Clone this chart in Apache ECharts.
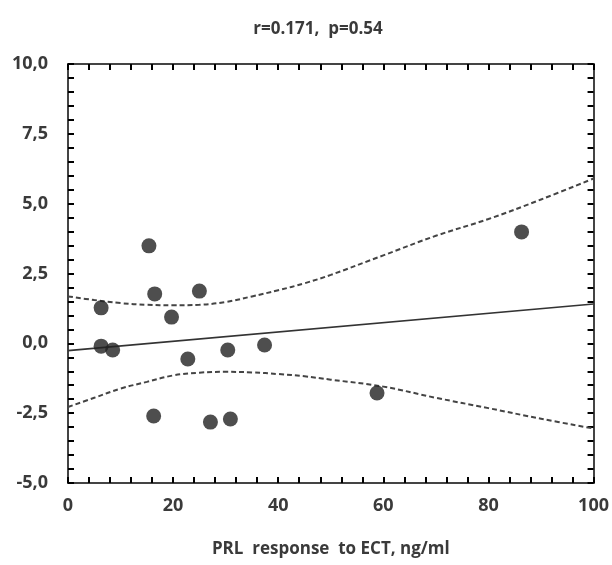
<!DOCTYPE html>
<html>
<head>
<meta charset="utf-8">
<script src="https://cdn.jsdelivr.net/npm/echarts@6/dist/echarts.min.js"></script>
<style>
html,body{margin:0;padding:0;background:#fff;}
#chart{width:612px;height:565px;}
</style>
</head>
<body>
<div id="chart"></div>
<script>
// Data
var prlX = [6.3, 6.3, 8.5, 15.4, 16.5, 19.7, 25.0, 16.3, 22.8, 30.4, 37.4, 27.1, 30.9, 58.8, 86.3];
var respY = [1.27, -0.10, -0.24, 3.49, 1.77, 0.94, 1.87, -2.60, -0.56, -0.24, -0.06, -2.82, -2.71, -1.78, 3.99];

var fitX = [0, 100];
var fitY = [-0.26, 1.41];

var bandX = [0, 5, 10, 15, 20, 25, 30, 35, 40, 45, 50, 60, 70, 80, 90, 100];
var upperY = [1.68, 1.55, 1.44, 1.38, 1.36, 1.38, 1.48, 1.68, 1.90, 2.15, 2.45, 3.15, 3.85, 4.45, 5.15, 5.90];
var lowerY = [-2.28, -1.95, -1.62, -1.38, -1.15, -1.05, -1.02, -1.04, -1.10, -1.18, -1.30, -1.55, -1.95, -2.32, -2.70, -3.05];

var titleText = 'r=0.171,  p=0.54';
var xName = 'PRL  response  to ECT, ng/ml';

function pairs(xs, ys){ return xs.map(function(x,i){ return [x, ys[i]]; }); }

var FONT = '"Open Sans", "DejaVu Sans", sans-serif';
var TXT = '#3a3a3a';
var AX = '#444';

function tick(){ return {show:true, inside:true, length:6, lineStyle:{color:'#000', width:2}}; }
function minor(){ return {show:true, splitNumber:5, length:6, lineStyle:{color:'#000', width:2}}; }
function aline(){ return {show:true, onZero:false, lineStyle:{color:AX, width:2}}; }

var chart = echarts.init(document.getElementById('chart'), null, {renderer:'canvas'});

chart.setOption({
  animation:false,
  backgroundColor:'#fff',
  title:{
    text:titleText, left:313, top:16, textAlign:'center',
    textStyle:{fontFamily:FONT, fontSize:17, fontWeight:'bold', color:TXT}
  },
  grid:{left:68, right:17, top:64, bottom:82},
  xAxis:[{
    type:'value', min:0, max:100, interval:20,
    name:xName, nameLocation:'middle', nameGap:58,
    nameTextStyle:{fontFamily:FONT, fontSize:17, fontWeight:'bold', color:TXT},
    axisLine:aline(), axisTick:tick(), minorTick:minor(),
    axisLabel:{fontFamily:FONT, fontSize:18, fontWeight:'bold', color:TXT, margin:14},
    splitLine:{show:false}, minorSplitLine:{show:false}
  },{
    type:'value', min:0, max:100, interval:20, position:'top',
    axisLine:aline(), axisTick:tick(), minorTick:minor(),
    axisLabel:{show:false}, splitLine:{show:false}
  }],
  yAxis:[{
    type:'value', min:-5, max:10, interval:2.5,
    axisLine:aline(), axisTick:tick(), minorTick:minor(),
    axisLabel:{fontFamily:FONT, fontSize:18, fontWeight:'bold', color:TXT, margin:20,
      formatter:function(v){ return v.toFixed(1).replace('.', ','); }},
    splitLine:{show:false}
  },{
    type:'value', min:-5, max:10, interval:2.5, position:'right',
    axisLine:aline(), axisTick:tick(), minorTick:minor(),
    axisLabel:{show:false}, splitLine:{show:false}
  }],
  series:[
    {type:'line', data:pairs(bandX, upperY), smooth:0.4, showSymbol:false, symbol:'none',
     lineStyle:{color:'#444', width:2, type:[5,3]}, z:2},
    {type:'line', data:pairs(bandX, lowerY), smooth:0.4, showSymbol:false, symbol:'none',
     lineStyle:{color:'#444', width:2, type:[5,3]}, z:2},
    {type:'line', data:pairs(fitX, fitY), showSymbol:false, symbol:'none',
     lineStyle:{color:'#333', width:1.6}, z:3},
    {type:'scatter', data:pairs(prlX, respY), symbol:'circle', symbolSize:15,
     itemStyle:{color:'#222'}, z:4}
  ]
});
</script>
</body>
</html>
